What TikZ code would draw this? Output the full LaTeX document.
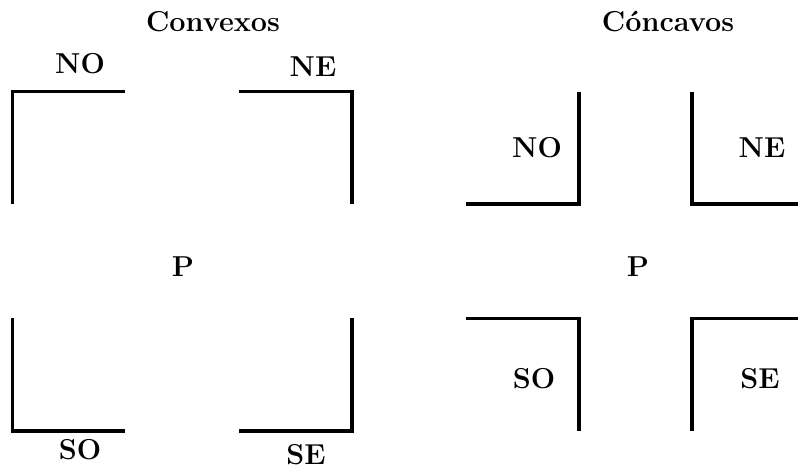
\documentclass[tikz,border=0pt]{standalone}
\begin{document}
\begin{tikzpicture}[x=0.5pt,y=-0.5pt,
  lbl/.style={font=\fontsize{14.4}{17}\selectfont\bfseries, anchor=base, inner sep=0pt},
  wall/.style={line width=1.6pt, line join=miter}]
\useasboundingbox (0,0) rectangle (798,470);
% Convexos
\node[lbl] (tconv) at (213,32) {Convexos};
\node[lbl] (cno) at (80,74) {NO};
\node[lbl] (cne) at (313,77) {NE};
\node[lbl] (cp) at (183,277) {P};
\node[lbl] (cso) at (80,459) {SO};
\node[lbl] (cse) at (306,464) {SE};
\draw[wall] (12.5,204) -- (12.5,91.5) -- (125,91.5);
\draw[wall] (239,91.5) -- (352,91.5) -- (352,204);
\draw[wall] (12.5,318) -- (12.5,431) -- (125,431);
\draw[wall] (239,431) -- (352,431) -- (352,318);
% Concavos
\node[lbl] (tconc) at (668,32) {Cóncavos};
\node[lbl] (kno) at (537,158) {NO};
\node[lbl] (kne) at (762,158) {NE};
\node[lbl] (kp) at (638,277) {P};
\node[lbl] (kso) at (534,388) {SO};
\node[lbl] (kse) at (760,388) {SE};
\draw[wall] (466,204) -- (579,204) -- (579,92);
\draw[wall] (692,92) -- (692,204) -- (800,204);
\draw[wall] (466,318.5) -- (579,318.5) -- (579,431);
\draw[wall] (692,431) -- (692,318.5) -- (800,318.5);
\end{tikzpicture}
\end{document}
